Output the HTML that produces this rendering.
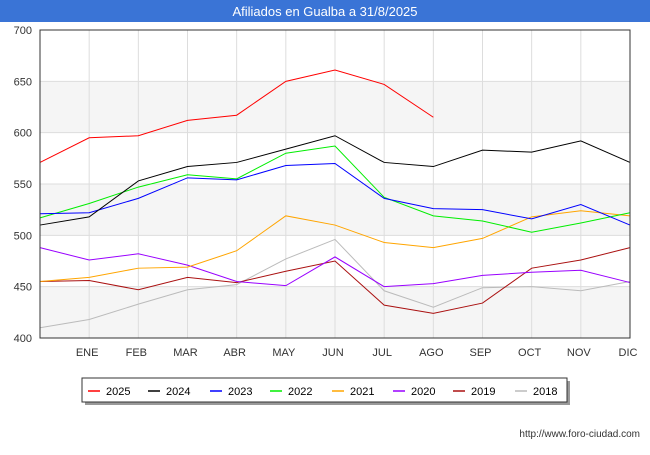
<!DOCTYPE html>
<html><head><meta charset="utf-8"><style>
body{margin:0;background:#fff;font-family:"Liberation Sans",sans-serif;}
</style></head><body>
<svg width="650" height="450" xmlns="http://www.w3.org/2000/svg" font-family="Liberation Sans, sans-serif">
<rect x="0" y="0" width="650" height="22" fill="#3a74d6"/>
<text x="325" y="16" fill="#fff" font-size="13" text-anchor="middle">Afiliados en Gualba a 31/8/2025</text>
<g id="grid"></g>
<g id="series"></g>
<g id="axes"></g>
<rect x="40" y="30" width="590" height="308" fill="none" stroke="#333" stroke-width="1"/>
<rect x="85" y="381" width="485" height="24" fill="#999"/>
<rect x="82" y="378" width="485" height="24" fill="#fff" stroke="#333"/>
<g id="legend"></g>
<text x="640" y="437" font-size="10" text-anchor="end" fill="#333">http://www.foro-ciudad.com</text>
</svg>
<script>
const months=["","ENE","FEB","MAR","ABR","MAY","JUN","JUL","AGO","SEP","OCT","NOV","DIC"];
const yTicks=[400,450,500,550,600,650,700];
const seriesNames=["2025","2024","2023","2022","2021","2020","2019","2018"];
const seriesColors=["#ff0000","#000000","#0000ff","#00ee00","#ffa500","#9900ff","#aa1111","#bbbbbb"];
const s2025=[571,595,597,612,617,650,661,647,615];
const s2024=[510,518,553,567,571,584,597,571,567,583,581,592,571];
const s2023=[521,522,536,556,554,568,570,536,526,525,516,530,510];
const s2022=[517,531,547,559,555,580,587,537,519,514,503,512,522];
const s2021=[455,459,468,469,485,519,510,493,488,497,518,524,519];
const s2020=[488,476,482,471,455,451,479,450,453,461,464,466,454];
const s2019=[455,456,447,459,454,465,475,432,424,434,468,476,488];
const s2018=[410,418,433,447,452,477,496,446,430,449,450,446,455];
const allSeries=[s2025,s2024,s2023,s2022,s2021,s2020,s2019,s2018];
const NS="http://www.w3.org/2000/svg";
const x=i=>40+i*590/12;
const y=v=>338-(v-400)*308/300;
function mk(t,a,p){const e=document.createElementNS(NS,t);for(const k in a)e.setAttribute(k,a[k]);p.appendChild(e);return e;}
const grid=document.getElementById('grid'),axes=document.getElementById('axes'),ser=document.getElementById('series'),leg=document.getElementById('legend');
for(let i=0;i<yTicks.length-1;i++){
 if(i%2==0){const r=mk('rect',{x:40,y:y(yTicks[i+1]),width:590,height:y(yTicks[i])-y(yTicks[i+1]),fill:'#f5f5f5'},grid);
 
 }
}
yTicks.forEach(v=>{
 const l=mk('line',{x1:40,x2:630,y1:y(v),y2:y(v),stroke:'#ddd'},grid);
 
 
 const t=mk('text',{x:32,y:y(v)+4,'font-size':11,'text-anchor':'end',fill:'#333'},axes);t.textContent=v;
 
 
});
months.forEach((m,i)=>{
 if(i>0){const l=mk('line',{x1:x(i),x2:x(i),y1:30,y2:338,stroke:'#ddd'},grid);
 
 }
 const t=mk('text',{x:x(i)-2,y:356,'font-size':11,'text-anchor':'middle',fill:'#333'},axes);t.textContent=m;
 
 
});
for(let k=allSeries.length-1;k>=0;k--){
 const p=mk('polyline',{points:allSeries[k].map((v,i)=>x(i)+','+y(v)).join(' '),fill:'none',stroke:seriesColors[k],'stroke-width':1},ser);
 
 
}
const lx=[88,148,210,270,332,393,453,515];
seriesNames.forEach((n,k)=>{
 const l=mk('line',{x1:lx[k],x2:lx[k]+12,y1:391,y2:391,stroke:seriesColors[k],'stroke-width':1.5},leg);
 
 
 const t=mk('text',{x:lx[k]+18,y:395,'font-size':11,fill:'#000'},leg);t.textContent=n;
 
 
});
</script>
</body></html>
